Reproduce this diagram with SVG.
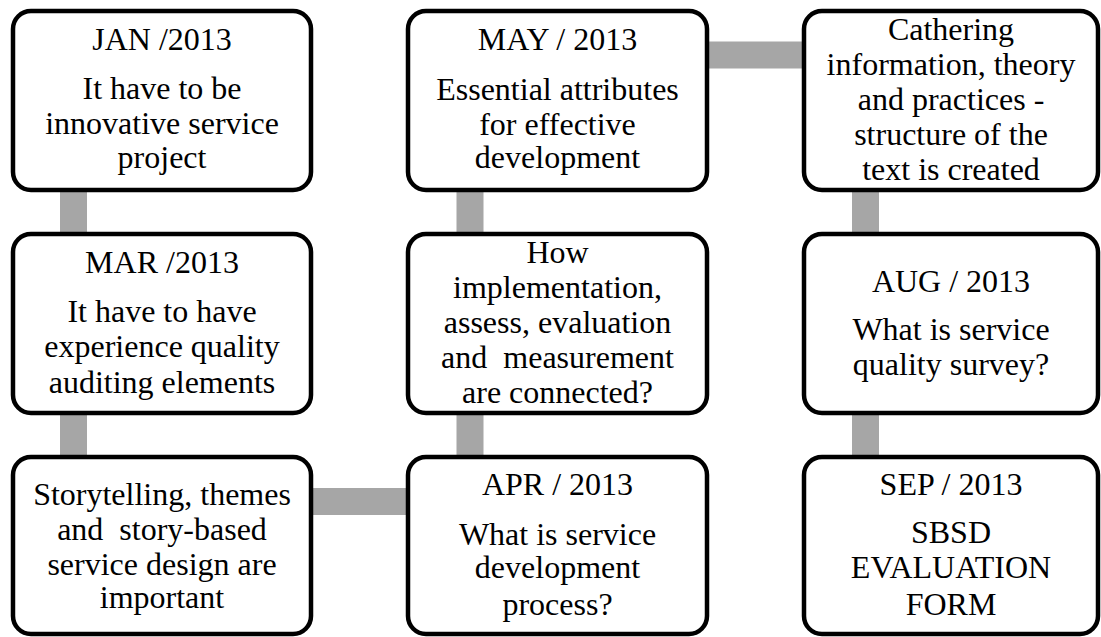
<svg xmlns="http://www.w3.org/2000/svg" width="1101" height="637" viewBox="0 0 1101 637">
<style>
.box{fill:#fff;stroke:#000;stroke-width:4.5}
.conn{stroke:#a6a6a6;stroke-width:27;fill:none}
text{font-family:"Liberation Serif","Times New Roman",serif;font-size:32px;fill:#000;text-anchor:middle}
</style>
<rect width="1101" height="637" fill="#fff"/>
<g id="connectors">
<line class="conn" x1="73.5" y1="190" x2="73.5" y2="234"/>
<line class="conn" x1="73.5" y1="413" x2="73.5" y2="457"/>
<line class="conn" x1="311" y1="501.5" x2="408" y2="501.5"/>
<line class="conn" x1="470" y1="413" x2="470" y2="457"/>
<line class="conn" x1="470" y1="190" x2="470" y2="234"/>
<line class="conn" x1="707" y1="55" x2="804" y2="55"/>
<line class="conn" x1="865.5" y1="190" x2="865.5" y2="234"/>
<line class="conn" x1="865.5" y1="413" x2="865.5" y2="457"/>
</g>
<g id="jan">
<rect class="box" x="13" y="11" width="298" height="179" rx="18"/>
<text x="162" y="50">JAN /2013</text>
<text x="162" y="99">It have to be</text>
<text x="162" y="134">innovative service</text>
<text x="162" y="168">project</text>
</g>
<g id="mar">
<rect class="box" x="13" y="234" width="298" height="179" rx="18"/>
<text x="162" y="273">MAR /2013</text>
<text x="162" y="322">It have to have</text>
<text x="162" y="357">experience quality</text>
<text x="162" y="393">auditing elements</text>
</g>
<g id="story">
<rect class="box" x="13" y="457" width="298" height="177" rx="18"/>
<text x="162" y="505">Storytelling, themes</text>
<text x="162" y="540" xml:space="preserve">and  story-based</text>
<text x="162" y="575">service design are</text>
<text x="162" y="608">important</text>
</g>
<g id="apr">
<rect class="box" x="408" y="457" width="299" height="177" rx="18"/>
<text x="557.5" y="495">APR / 2013</text>
<text x="557.5" y="545">What is service</text>
<text x="557.5" y="578">development</text>
<text x="557.5" y="615">process?</text>
</g>
<g id="how">
<rect class="box" x="408" y="234" width="299" height="179" rx="18"/>
<text x="557.5" y="263">How</text>
<text x="557.5" y="298">implementation,</text>
<text x="557.5" y="333">assess, evaluation</text>
<text x="557.5" y="368" xml:space="preserve">and  measurement</text>
<text x="557.5" y="403">are connected?</text>
</g>
<g id="may">
<rect class="box" x="408" y="11" width="299" height="179" rx="18"/>
<text x="557.5" y="50">MAY / 2013</text>
<text x="557.5" y="100">Essential attributes</text>
<text x="557.5" y="135">for effective</text>
<text x="557.5" y="168">development</text>
</g>
<g id="cathering">
<rect class="box" x="804" y="11" width="294" height="179" rx="18"/>
<text x="951" y="40">Cathering</text>
<text x="951" y="75">information, theory</text>
<text x="951" y="110">and practices -</text>
<text x="951" y="145">structure of the</text>
<text x="951" y="180">text is created</text>
</g>
<g id="aug">
<rect class="box" x="804" y="234" width="294" height="179" rx="18"/>
<text x="951" y="292">AUG / 2013</text>
<text x="951" y="340">What is service</text>
<text x="951" y="375">quality survey?</text>
</g>
<g id="sep">
<rect class="box" x="804" y="457" width="294" height="177" rx="18"/>
<text x="951" y="495">SEP / 2013</text>
<text x="951" y="543">SBSD</text>
<text x="951" y="578">EVALUATION</text>
<text x="951" y="615">FORM</text>
</g>
</svg>
